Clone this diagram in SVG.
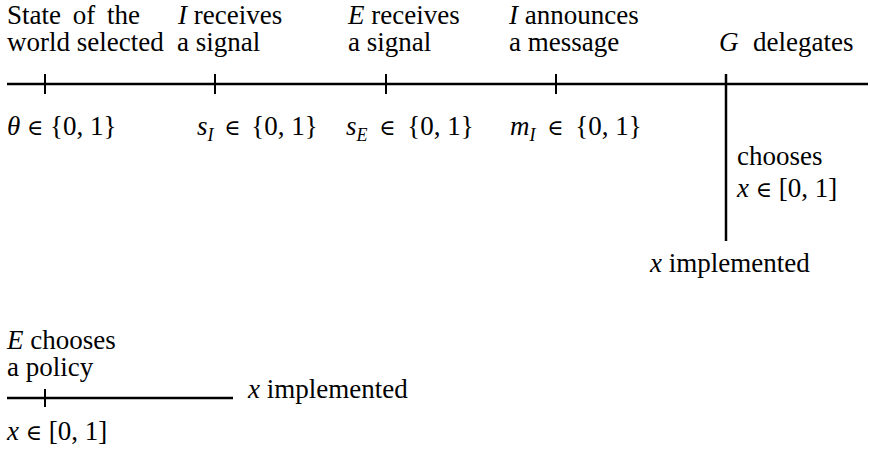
<svg xmlns="http://www.w3.org/2000/svg" width="870" height="449" viewBox="0 0 870 449">
<style>
text{font-family:'Liberation Serif','DejaVu Serif',serif;font-size:27px;fill:#000}
.i{font-style:italic}
.sub{font-size:18px;font-style:italic}
.el{font-size:22px}
.ln{stroke:#000;stroke-width:2.5;fill:none}
.tk{stroke:#000;stroke-width:2;fill:none}
</style>
<rect width="870" height="449" fill="#fff"/>
<g id="connectors">
<line class="ln" x1="7" y1="84" x2="868" y2="84"/>
<line class="tk" x1="45" y1="74" x2="45" y2="94"/>
<line class="tk" x1="215" y1="74" x2="215" y2="94"/>
<line class="tk" x1="386" y1="74" x2="386" y2="94"/>
<line class="tk" x1="556" y1="74" x2="556" y2="94"/>
<line class="ln" x1="726" y1="74" x2="726" y2="241"/>
<line class="ln" x1="7" y1="398" x2="233" y2="398"/>
<line class="tk" x1="45" y1="389" x2="45" y2="407"/>
</g>
<g id="state">
<text x="7" y="24"><tspan word-spacing="5">State of the</tspan><tspan x="7" y="51">world selected</tspan></text>
<text x="7" y="135"><tspan class="i">θ</tspan> <tspan class="el">∈</tspan> {0, 1}</text>
</g>
<g id="i-signal">
<text x="178" y="24"><tspan class="i">I</tspan> receives<tspan x="177" y="51">a signal</tspan></text>
<text x="197" y="135"><tspan class="i">s</tspan><tspan class="sub" dy="6">I</tspan><tspan dy="-6" dx="4"> </tspan><tspan class="el">∈</tspan><tspan dx="4"> {0, 1}</tspan></text>
</g>
<g id="e-signal">
<text x="348" y="24"><tspan class="i">E</tspan> receives<tspan x="348" y="51">a signal</tspan></text>
<text x="346" y="135"><tspan class="i">s</tspan><tspan class="sub" dy="6">E</tspan><tspan dy="-6" dx="5"> </tspan><tspan class="el">∈</tspan><tspan dx="5"> {0, 1}</tspan></text>
</g>
<g id="i-message">
<text x="509" y="24"><tspan class="i">I</tspan> announces<tspan x="509" y="51">a message</tspan></text>
<text x="510" y="135"><tspan class="i">m</tspan><tspan class="sub" dy="6">I</tspan><tspan dy="-6" dx="5"> </tspan><tspan class="el">∈</tspan><tspan dx="5"> {0, 1}</tspan></text>
</g>
<g id="g-delegates">
<text x="719" y="51"><tspan class="i">G</tspan><tspan x="753">delegates</tspan></text>
<text x="737" y="165">chooses<tspan x="737" y="197" class="i">x</tspan> <tspan class="el">∈</tspan> [0, 1]</text>
<text x="650" y="272"><tspan class="i">x</tspan> implemented</text>
</g>
<g id="e-policy">
<text x="7" y="349"><tspan class="i">E</tspan> chooses<tspan x="7" y="376">a policy</tspan></text>
<text x="7" y="440"><tspan class="i">x</tspan> <tspan class="el">∈</tspan> [0, 1]</text>
<text x="248" y="398"><tspan class="i">x</tspan> implemented</text>
</g>
</svg>
